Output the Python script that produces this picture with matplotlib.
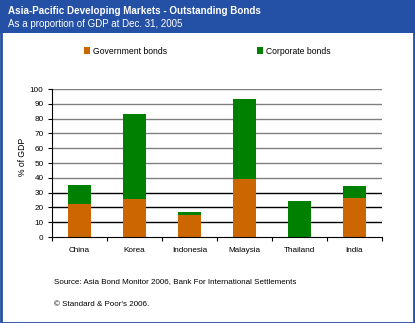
import matplotlib.pyplot as plt
import numpy as np
from matplotlib.patches import Rectangle

countries = ['China', 'Korea', 'Indonesia', 'Malaysia', 'Thailand', 'India']
govt = [22.3, 25.5, 14.9, 39.4, 0.0, 26.4]
corp = [12.6, 57.6, 2.2, 53.8, 24.3, 8.1]
yticks = [0, 10, 20, 30, 40, 50, 60, 70, 80, 90, 100]

orange = '#cc6600'
green = '#008000'
blue = '#2450a6'

plt.rcParams['font.family'] = ['Liberation Sans', 'DejaVu Sans']

fig = plt.figure(figsize=(4.15, 3.23), dpi=100)
W, H = 415, 323

# header band + frame
fig.patches.append(Rectangle((0, 1 - 33 / H), 1, 33 / H, transform=fig.transFigure,
                             facecolor=blue, edgecolor='none', zorder=0))
fig.patches.append(Rectangle((0.5 / W, 0.5 / H), 1 - 1.5 / W, 1 - 1.5 / H, transform=fig.transFigure,
                             facecolor='none', edgecolor=blue, lw=2, zorder=5))
fig.text(8 / W, 1 - 11 / H, 'Asia-Pacific Developing Markets - Outstanding Bonds',
         color='white', fontsize=7.1, fontweight='bold', va='center')
fig.text(8 / W, 1 - 24 / H, 'As a proportion of GDP at Dec. 31, 2005',
         color='white', fontsize=7.0, va='center')

ax = fig.add_axes([52 / W, 86 / H, 330 / W, 148 / H])
x = np.arange(len(countries))
ax.bar(x, govt, width=0.41, color=orange, zorder=2, label='Government bonds')
ax.bar(x, corp, width=0.41, bottom=govt, color=green, zorder=2, label='Corporate bonds')

ax.set_xlim(-0.5, len(countries) - 0.5)
ax.set_ylim(0, 100)
ax.set_yticks(yticks)
ax.tick_params(axis='y', labelsize=5.9, length=3, width=0.8, pad=3)
ax.set_xticks(np.arange(len(countries) + 1) - 0.5)
ax.set_xticklabels([])
ax.set_xticks(x, minor=True)
ax.set_xticklabels(countries, minor=True, fontsize=5.9)
ax.tick_params(axis='x', which='major', length=3, width=0.8)
ax.tick_params(axis='x', which='minor', length=0, pad=7)
for s in ['top', 'right']:
    ax.spines[s].set_visible(False)
ax.spines['left'].set_linewidth(0.8)
ax.spines['bottom'].set_linewidth(0.8)
for t in yticks[1:]:
    ax.axhline(t, color='black' if t <= 30 else '#808080', lw=1.0, zorder=1)
ax.set_ylabel('% of GDP', fontsize=6.2)
ax.yaxis.set_label_coords(-25 / 330, 0.54)

fig.legend(loc='center', bbox_to_anchor=(0.5, 1 - 51 / H), ncol=2, frameon=False,
           fontsize=6.2, handlelength=0.7, handleheight=0.7, handletextpad=0.3,
           columnspacing=10.5)

fig.text(54 / W, 1 - 282 / H, 'Source: Asia Bond Monitor 2006, Bank For International Settlements',
         fontsize=5.8, va='center')
fig.text(54 / W, 1 - 304 / H, '\u00a9 Standard & Poor\'s 2006.', fontsize=5.8, va='center')

fig.savefig('out.png', dpi=100)
